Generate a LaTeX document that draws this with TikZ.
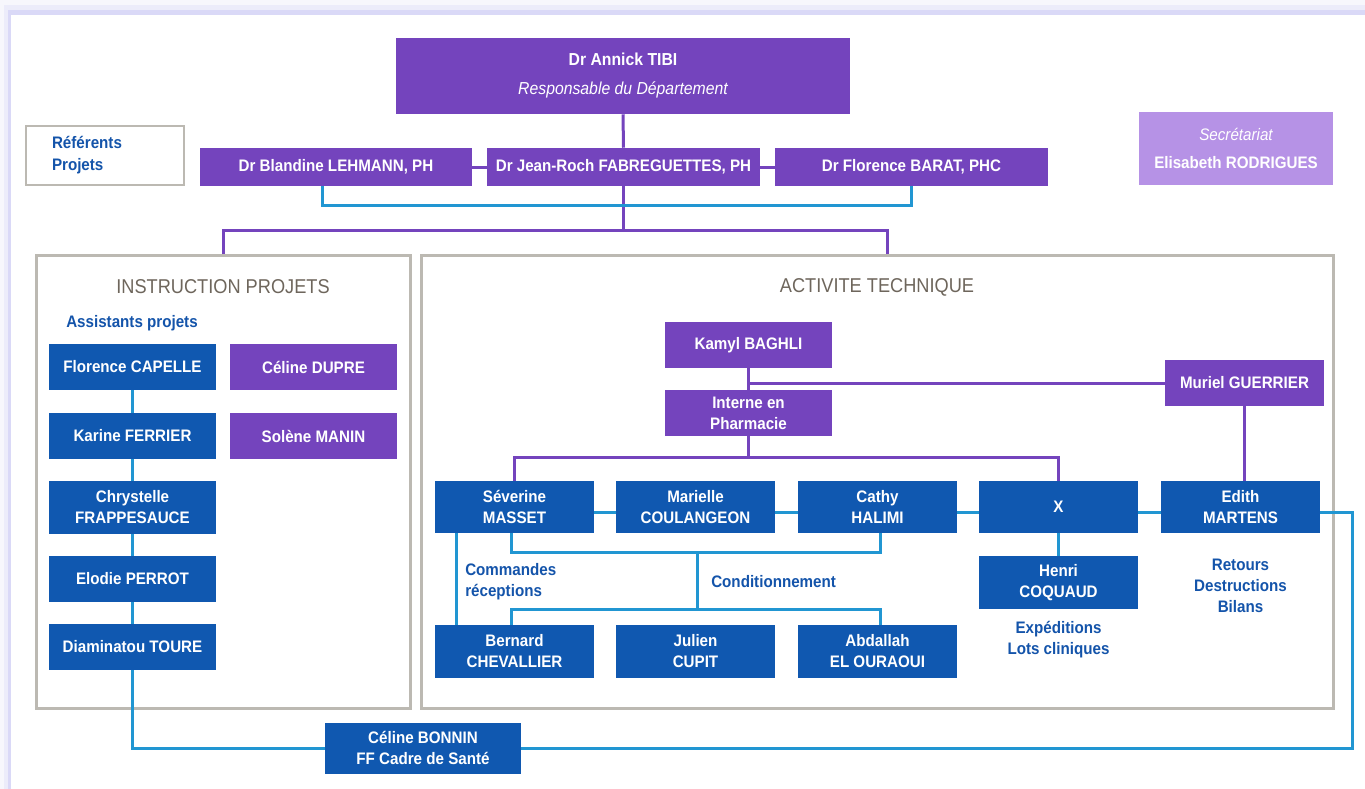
\documentclass[tikz,border=0pt]{standalone}
\usepackage{fontspec}
\setmainfont{Liberation Sans}[FakeStretch=0.91]
\usepackage{tikz}

\definecolor{purp}{RGB}{116,68,189}
\definecolor{lpurp}{RGB}{182,146,230}
\definecolor{blu}{RGB}{16,88,176}
\definecolor{lnk}{RGB}{33,150,210}
\definecolor{frm}{RGB}{188,185,178}
\definecolor{ttl}{RGB}{110,102,92}
\definecolor{lbl}{RGB}{20,84,170}
\definecolor{shA}{RGB}{247,247,252}
\definecolor{shB}{RGB}{236,236,250}
\definecolor{shC}{RGB}{218,217,247}

\tikzset{
  box/.style={rectangle, inner sep=0pt, text=white, align=center,
    font=\fontsize{12.5}{15.75}\selectfont\bfseries},
  pbox/.style={box, fill=purp},
  bbox/.style={box, fill=blu},
  frame/.style={rectangle, draw=frm, line width=2.25pt, inner sep=0pt},
  plink/.style={draw=purp, line width=2.25pt},
  blink/.style={draw=lnk, line width=2.25pt},
  head/.style={text=ttl, font=\fontsize{15}{18}\selectfont},
  note/.style={text=lbl, inner sep=0pt, font=\fontsize{12.5}{15.75}\selectfont\bfseries},
}

\begin{document}
\begin{tikzpicture}[x=0.75pt,y=0.75pt,yscale=-1,xscale=1]
\useasboundingbox (0,0) rectangle (1365,789);

%Shadow of the page
\fill[shA] (0,0) rectangle (1365,15);
\fill[shA] (0,0) rectangle (11,789);
\fill[shB] (4,5) rectangle (1365,15);
\fill[shB] (4,5) rectangle (11,789);
\fill[shC] (8,10) rectangle (1365,15);
\fill[shC] (8,10) rectangle (11,789);

%Shape: Frames
\draw (223,481.5) node (ip) [frame, minimum width=280.5pt, minimum height=339.75pt] {};
\draw (877,481.5) node (at) [frame, minimum width=684pt, minimum height=339.75pt] {};
\draw (105,155.5) node (ref) [frame, line width=2pt, text=lbl, align=left, text width=79.5pt, inner xsep=19.5pt, minimum height=44.25pt,
  font=\fontsize{12.5}{16.5}\selectfont\bfseries] {Référents\\Projets};

% Head of department
\draw (623,76) node (tibi) [pbox, minimum width=340.5pt, minimum height=57pt, font=\fontsize{13}{21.75}\selectfont]
  {\bfseries Dr Annick TIBI\\\mdseries\itshape Responsable du Département};
\draw (336,167) node (leh) [pbox, minimum width=204pt, minimum height=28.5pt] {Dr Blandine LEHMANN, PH};
\draw (623.5,167) node (fab) [pbox, minimum width=204.75pt, minimum height=28.5pt] {Dr Jean-Roch FABREGUETTES, PH};
\draw (911.5,167) node (bar) [pbox, minimum width=204.75pt, minimum height=28.5pt] {Dr Florence BARAT, PHC};
\draw (1236,148.5) node (sec) [box, fill=lpurp, minimum width=145.5pt, minimum height=54.75pt, font=\fontsize{12.5}{21}\selectfont]
  {\mdseries\itshape Secrétariat\\\bfseries Elisabeth RODRIGUES};

% Text Node
\draw (223,287) node (iptitle) [head] {INSTRUCTION PROJETS};
\draw (877,287) node (attitle) [head] {ACTIVITE TECHNIQUE};
\draw (66,323) node (assist) [note, anchor=west] {Assistants projets};

% Instruction projets
\draw (132.5,367) node (cap) [bbox, minimum width=125.25pt, minimum height=34.5pt] {Florence CAPELLE};
\draw (132.5,436) node (fer) [bbox, minimum width=125.25pt, minimum height=34.5pt] {Karine FERRIER};
\draw (132.5,507.5) node (fra) [bbox, minimum width=125.25pt, minimum height=39.75pt] {Chrystelle\\FRAPPESAUCE};
\draw (132.5,579) node (per) [bbox, minimum width=125.25pt, minimum height=34.5pt] {Elodie PERROT};
\draw (132.5,647) node (tou) [bbox, minimum width=125.25pt, minimum height=34.5pt] {Diaminatou TOURE};
\draw (313.5,367) node (dup) [pbox, minimum width=125.25pt, minimum height=34.5pt] {Céline DUPRE};
\draw (313.5,436) node (man) [pbox, minimum width=125.25pt, minimum height=34.5pt] {Solène MANIN};

% Activite technique
\draw (748.5,345) node (bag) [pbox, minimum width=125.25pt, minimum height=34.5pt] {Kamyl BAGHLI};
\draw (748.5,413) node (int) [pbox, minimum width=125.25pt, minimum height=34.5pt] {Interne en\\Pharmacie};
\draw (1244.5,383) node (gue) [pbox, minimum width=119.25pt, minimum height=34.5pt] {Muriel GUERRIER};
\draw (514.5,507) node (sev) [bbox, minimum width=119.25pt, minimum height=39pt] {Séverine\\MASSET};
\draw (695.5,507) node (mar) [bbox, minimum width=119.25pt, minimum height=39pt] {Marielle\\COULANGEON};
\draw (877.5,507) node (cat) [bbox, minimum width=119.25pt, minimum height=39pt] {Cathy\\HALIMI};
\draw (1058.5,507) node (xx) [bbox, minimum width=119.25pt, minimum height=39pt] {X};
\draw (1240.5,507) node (mart) [bbox, minimum width=119.25pt, minimum height=39pt] {Edith\\MARTENS};
\draw (1058.5,582.5) node (hen) [bbox, minimum width=119.25pt, minimum height=39.75pt] {Henri\\COQUAUD};
\draw (514.5,651.5) node (ber) [bbox, minimum width=119.25pt, minimum height=39.75pt] {Bernard\\CHEVALLIER};
\draw (695.5,651.5) node (jul) [bbox, minimum width=119.25pt, minimum height=39.75pt] {Julien\\CUPIT};
\draw (877.5,651.5) node (abd) [bbox, minimum width=119.25pt, minimum height=39.75pt] {Abdallah\\EL OURAOUI};
\draw (423,748) node (bon) [bbox, minimum width=147pt, minimum height=38.25pt] {Céline BONNIN\\FF Cadre de Santé};

% Text Node
\draw (465,582) node (cmd) [note, anchor=west, align=left] {Commandes\\réceptions};
\draw (711,582) node (cond) [note, anchor=west] {Conditionnement};
\draw (1058.5,640) node (exp) [note, align=center] {Expéditions\\Lots cliniques};
\draw (1240.5,586) node (ret) [note, align=center] {Retours\\Destructions\\Bilans};

% Coordinates
\coordinate (fork) at (625,230);
\coordinate (refbar) at (0,205);
\coordinate (tj) at (748.5,457);
\coordinate (rowy) at (0,512);
\coordinate (condtop) at (697,552);
\coordinate (condbot) at (697,609);
\coordinate (redge) at (1352,0);

%Straight Lines
\draw[plink] (tibi.south) -- (fab.north);
\draw[plink] (leh.east) -- (fab.west);
\draw[plink] (fab.east) -- (bar.west);
\draw[plink] (fab.south) -- (fab.south |- fork);
\draw[plink] (ip.north) |- (fab.south |- fork) -| ([xshift=7.5pt]at.north);
\draw[blink] ([xshift=-10.5pt]leh.south) |- (refbar -| bar.south) -- (bar.south);

\draw[blink] (cap.south) -- (fer.north);
\draw[blink] (fer.south) -- (fra.north);
\draw[blink] (fra.south) -- (per.north);
\draw[blink] (per.south) -- (tou.north);
\draw[blink] (tou.south) |- (bon.west);

\draw[plink] (bag.south) -- (int.north);
\draw[plink] (gue.west) -- (gue.west -| bag.south);
\draw[plink] (gue.south) -- (gue.south |- mart.north);
\draw[plink] (int.south) -- (tj);
\draw[plink] (sev.north) |- (tj) -| (xx.north);

\draw[blink] (sev.east |- rowy) -- (mar.west |- rowy);
\draw[blink] (mar.east |- rowy) -- (cat.west |- rowy);
\draw[blink] (cat.east |- rowy) -- (xx.west |- rowy);
\draw[blink] (xx.east |- rowy) -- (mart.west |- rowy);
\draw[blink] (mart.east |- rowy) -- (redge |- rowy) |- (bon.east);
\draw[blink] (xx.south) -- (hen.north);
\draw[blink] ([xshift=16.5pt]sev.south west) -- ([xshift=16.5pt]ber.north west);
\draw[blink] ([xshift=-2pt]sev.south) |- (condtop) -| ([xshift=2pt]cat.south);
\draw[blink] (condtop) -- (condbot);
\draw[blink] ([xshift=-2pt]ber.north) |- (condbot) -| ([xshift=2pt]abd.north);

\end{tikzpicture}
\end{document}
